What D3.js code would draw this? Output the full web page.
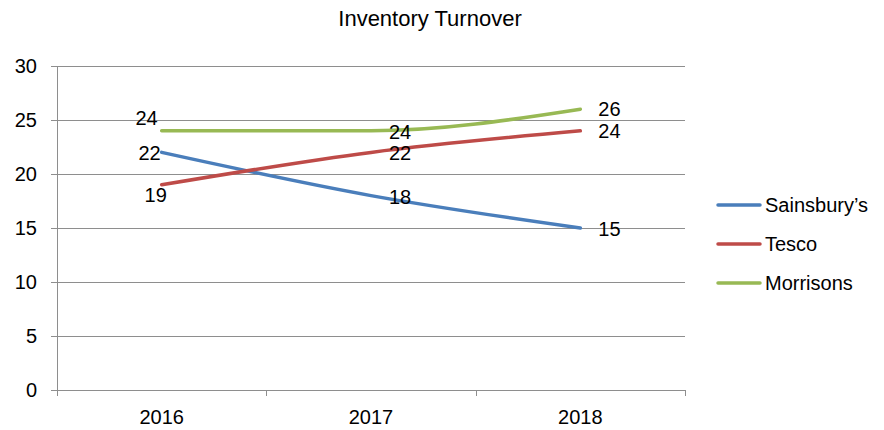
<!DOCTYPE html>
<html>
<head>
<meta charset="utf-8">
<script src="https://cdn.jsdelivr.net/npm/d3@7"></script>
<style>
  body { margin: 0; background: #fff; }
  text { font-family: "Liberation Sans", Arial, sans-serif; fill: #000; }
</style>
</head>
<body>
<div id="chart"></div>
<script>
// Chart data
var years = ["2016", "2017", "2018"];
var seriesNames = ["Sainsbury\u2019s", "Tesco", "Morrisons"];
var sainsburys = [22, 18, 15];
var tesco = [19, 22, 24];
var morrisons = [24, 24, 26];
var yTicks = [0, 5, 10, 15, 20, 25, 30];

var seriesColors = ["#4a7ebb", "#be4b48", "#98b954"];
// label offsets [dx, dy, anchor] per series per point
var labelOffsets = [
  [[-1, 1, "end"], [18, 1, "start"], [18, 1, "start"]],
  [[-6, 10, "middle"], [18, 1, "start"], [18, 0, "start"]],
  [[-4, -13, "end"], [18, 1, "start"], [18, 0, "start"]]
];

var svgWidth = 884;
var svgHeight = 430;
var labelSize = "20px";

var margin = { top: 66, right: 199, bottom: 40, left: 57 };
var chartWidth = svgWidth - margin.left - margin.right;
var chartHeight = svgHeight - margin.top - margin.bottom;

var svg = d3.select("#chart")
  .append("svg")
  .attr("width", svgWidth)
  .attr("height", svgHeight);

var chartGroup = svg.append("g")
  .attr("transform", `translate(${margin.left}, ${margin.top})`);

var xBandScale = d3.scaleBand()
  .domain(years)
  .range([0, chartWidth]);

var yLinearScale = d3.scaleLinear()
  .domain([0, 30])
  .range([chartHeight, 0]);

// gridlines + y tick marks
chartGroup.append("g")
  .selectAll("line")
  .data(yTicks)
  .enter()
  .append("line")
  .attr("x1", -6)
  .attr("x2", chartWidth)
  .attr("y1", d => yLinearScale(d) + 0.5)
  .attr("y2", d => yLinearScale(d) + 0.5)
  .attr("stroke", "#8e8e8e")
  .attr("stroke-width", 1);

// y tick labels
chartGroup.append("g")
  .selectAll("text")
  .data(yTicks)
  .enter()
  .append("text")
  .attr("x", -20)
  .attr("y", d => yLinearScale(d))
  .attr("dy", "0.35em")
  .attr("text-anchor", "end")
  .style("font-size", labelSize)
  .text(d => d);

// y axis line
chartGroup.append("line")
  .attr("x1", 0.5).attr("x2", 0.5)
  .attr("y1", 0).attr("y2", chartHeight + 6)
  .attr("stroke", "#8e8e8e");

// category tick marks
var catEdges = years.map(d => xBandScale(d)).concat([chartWidth]);
chartGroup.append("g")
  .selectAll("line")
  .data(catEdges)
  .enter()
  .append("line")
  .attr("x1", d => Math.round(d) + 0.5)
  .attr("x2", d => Math.round(d) + 0.5)
  .attr("y1", chartHeight)
  .attr("y2", chartHeight + 6)
  .attr("stroke", "#8e8e8e");

// x labels
chartGroup.append("g")
  .selectAll("text")
  .data(years)
  .enter()
  .append("text")
  .attr("x", d => xBandScale(d) + xBandScale.bandwidth() / 2)
  .attr("y", chartHeight + 34)
  .attr("text-anchor", "middle")
  .style("font-size", labelSize)
  .text(d => d);

var allSeries = [sainsburys, tesco, morrisons];

var drawLine = d3.line()
  .x((d, i) => xBandScale(years[i]) + xBandScale.bandwidth() / 2)
  .y(d => yLinearScale(d))
  .curve(d3.curveMonotoneX);

allSeries.forEach(function(values, s) {
  chartGroup.append("path")
    .attr("d", drawLine(values))
    .attr("fill", "none")
    .attr("stroke", seriesColors[s])
    .attr("stroke-width", 3.5)
    .attr("stroke-linecap", "round");
});

// data labels
allSeries.forEach(function(values, s) {
  chartGroup.append("g")
    .selectAll("text")
    .data(values)
    .enter()
    .append("text")
    .attr("x", (d, i) => xBandScale(years[i]) + xBandScale.bandwidth() / 2 + labelOffsets[s][i][0])
    .attr("y", (d, i) => yLinearScale(d) + labelOffsets[s][i][1])
    .attr("dy", "0.35em")
    .attr("text-anchor", (d, i) => labelOffsets[s][i][2])
    .style("font-size", labelSize)
    .text(d => d);
});

// title
svg.append("text")
  .attr("x", 430)
  .attr("y", 26)
  .attr("text-anchor", "middle")
  .style("font-size", "22px")
  .text("Inventory Turnover");

// legend
var legendGroup = svg.append("g")
  .attr("transform", "translate(716, 205)");

var legendItems = legendGroup.selectAll("g")
  .data(seriesNames)
  .enter()
  .append("g")
  .attr("transform", (d, i) => `translate(0, ${i * 39})`);

legendItems.append("line")
  .attr("x1", 2).attr("x2", 44)
  .attr("y1", 0).attr("y2", 0)
  .attr("stroke", (d, i) => seriesColors[i])
  .attr("stroke-width", 3.5)
  .attr("stroke-linecap", "round");

legendItems.append("text")
  .attr("x", 49)
  .attr("y", 0)
  .attr("dy", "0.35em")
  .style("font-size", labelSize)
  .text(d => d);
</script>
</body>
</html>
